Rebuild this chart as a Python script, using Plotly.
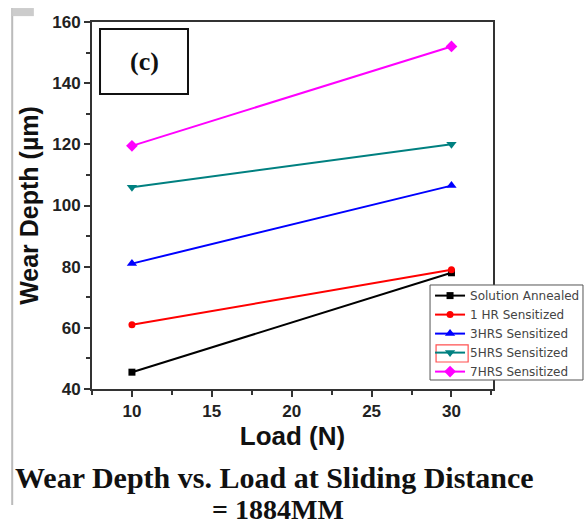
import plotly.graph_objects as go

# Applied load (N) and wear depth (µm) for each heat-treatment condition
load = [10, 30]
solution_annealed = [45.5, 78]
hr1_sensitized = [61, 79]
hrs3_sensitized = [81, 106.5]
hrs5_sensitized = [106, 120]
hrs7_sensitized = [119.5, 152]

series = [
    ("Solution Annealed", solution_annealed, "#000000", "square", 7),
    ("1 HR Sensitized", hr1_sensitized, "#ff0000", "circle", 7),
    ("3HRS Sensitized", hrs3_sensitized, "#0000ff", "triangle-up", 9),
    ("5HRS Sensitized", hrs5_sensitized, "#008080", "triangle-down", 9),
    ("7HRS Sensitized", hrs7_sensitized, "#ff00ff", "diamond", 9),
]

fig = go.Figure()
for name, vals, color, sym, size in series:
    fig.add_trace(go.Scatter(
        x=load, y=vals, name=name, mode="lines+markers",
        line=dict(color=color, width=2),
        marker=dict(symbol=sym, size=size, color=color),
    ))

axis_common = dict(
    showline=True, linecolor="#333333", linewidth=2, mirror=True,
    ticks="outside", ticklen=6, tickwidth=1.5, tickcolor="#333333",
    showgrid=False, zeroline=False,
    tickfont=dict(family="Arial", size=17, color="#222222", weight="bold"),
)

fig.update_xaxes(
    range=[7.5, 32.6], tickvals=[10, 15, 20, 25, 30],
    minor=dict(ticks="outside", ticklen=4, tickcolor="#333333", dtick=2.5, tick0=0),
    title=dict(text="Load (N)", font=dict(family="Arial", size=26, color="#111111", weight="bold"), standoff=6),
    **axis_common,
)
fig.update_yaxes(
    range=[40, 160], tickvals=[40, 60, 80, 100, 120, 140, 160],
    minor=dict(ticks="outside", ticklen=4, tickcolor="#333333", dtick=10, tick0=0),
    title=dict(text="Wear Depth (µm)", font=dict(family="Arial", size=25, color="#111111", weight="bold"), standoff=6),
    **axis_common,
)

fig.update_layout(
    width=586, height=529,
    margin=dict(l=92, r=93, t=22, b=140, autoexpand=False),
    paper_bgcolor="white", plot_bgcolor="white",
    showlegend=True,
    legend=dict(
        x=0.843, y=0.294, xanchor="left", yanchor="top",
        bgcolor="rgba(0,0,0,0)", borderwidth=0,
        font=dict(family="DejaVu Sans", size=12, color="#444444"),
        tracegroupgap=0, itemwidth=30,
    ),
    shapes=[
        # panel label frame
        dict(type="rect", xref="paper", yref="paper",
             x0=0.02, x1=0.2394, y0=0.804, y1=0.981,
             line=dict(color="#111111", width=2), fillcolor="white"),
        # legend frame
        dict(type="rect", xref="paper", yref="paper", layer="above",
             x0=0.843, x1=1.2244, y0=0.0245, y1=0.2834,
             line=dict(color="#555555", width=1), fillcolor="white"),
        # highlight around the 5HRS legend symbol
        dict(type="rect", xref="paper", yref="paper", layer="above",
             x0=0.858, x1=0.938, y0=0.0736, y1=0.12,
             line=dict(color="#ff5050", width=1.2)),
        # page margin rule
        dict(type="line", xref="paper", yref="paper",
             x0=-0.199, x1=-0.199, y0=-0.316, y1=1.038,
             line=dict(color="#bbbbbb", width=2)),
        dict(type="rect", xref="paper", yref="paper",
             x0=-0.199, x1=-0.145, y0=1.016, y1=1.038,
             line=dict(width=0), fillcolor="#cccccc"),
    ],
    annotations=[
        dict(text="(c)", xref="paper", yref="paper", x=0.1297, y=0.893,
             showarrow=False, xanchor="center", yanchor="middle",
             font=dict(family="Liberation Serif", size=26, color="#111111", weight="bold")),
        dict(text="Wear Depth vs. Load at Sliding Distance", xref="paper", yref="paper",
             x=0.456, y=-0.2398, showarrow=False, xanchor="center", yanchor="middle",
             font=dict(family="Liberation Serif", size=30, color="#111111", weight="bold")),
        dict(text="= 1884MM", xref="paper", yref="paper",
             x=0.464, y=-0.3297, showarrow=False, xanchor="center", yanchor="middle",
             font=dict(family="Liberation Serif", size=28, color="#111111", weight="bold")),
    ],
)

fig.write_html("out.html")
